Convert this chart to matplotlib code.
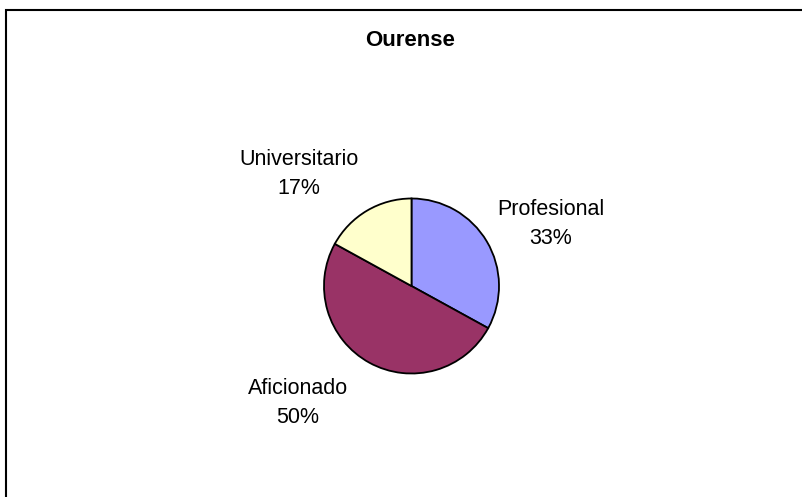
import matplotlib
matplotlib.use("Agg")
import matplotlib.pyplot as plt
from matplotlib.patches import Rectangle

title = "Ourense"
categories = ["Profesional", "Aficionado", "Universitario"]
values = [33, 50, 17]
colors = ["#9999FF", "#993366", "#FFFFCC"]

W, H = 803, 497
fig = plt.figure(figsize=(W / 100, H / 100), dpi=100)
plt.rcParams["font.family"] = ["Liberation Sans", "DejaVu Sans"]

ax = fig.add_axes([0, 0, 1, 1])
R = 87.5
cx, cy = 411.5, 286.0

wedges, _ = ax.pie(values, colors=colors, startangle=90, counterclock=False,
                   wedgeprops=dict(edgecolor="black", linewidth=1.3))
ax.set_xlim(-cx / R, (W - cx) / R)
ax.set_ylim(-(H - cy) / R, cy / R)
ax.set_aspect("auto")
ax.axis("off")

label_pos = [(1.59, 0.71), (-1.30, -1.335), (-1.29, 1.285)]
for cat, v, (x, y) in zip(categories, values, label_pos):
    ax.text(x, y, f"{cat}\n{v}%", ha="center", va="center", fontsize=15.5,
            linespacing=1.5)

fig.text(410 / W, 1 - 41 / H, title, ha="center", va="center",
         fontsize=16, fontweight="bold")

fig.patches.append(Rectangle((6.5 / W, -0.1), 1.2, 1.1 - 9.5 / H,
                             transform=fig.transFigure, fill=False,
                             edgecolor="black", linewidth=1.5))

fig.savefig("out.png", dpi=100)
